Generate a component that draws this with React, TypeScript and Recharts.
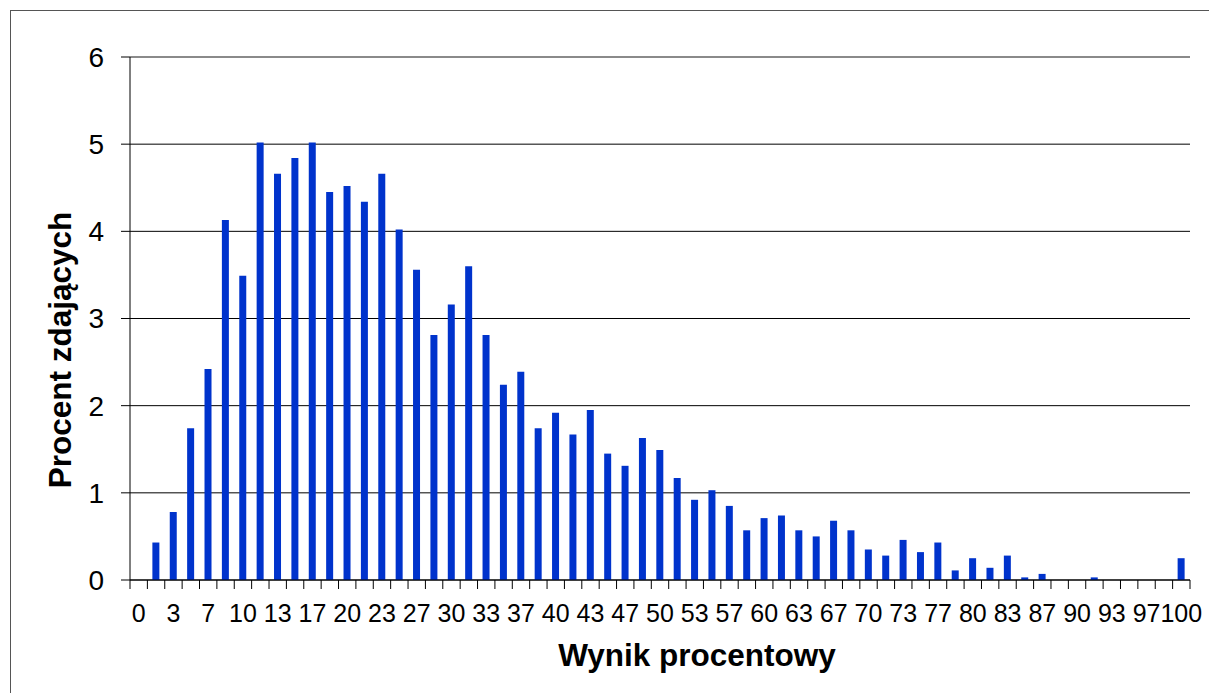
import React from 'react';
import { BarChart, Bar, XAxis, YAxis, CartesianGrid, ReferenceLine } from 'recharts';

// score buckets (percent of max points) and share of candidates
const scoreLabels = [
  '0', '2', '3', '5', '7', '8', '10', '12', '13', '15', '17', '18', '20', '22', '23', '25',
  '27', '28', '30', '32', '33', '35', '37', '38', '40', '42', '43', '45', '47', '48', '50',
  '52', '53', '55', '57', '58', '60', '62', '63', '65', '67', '68', '70', '72', '73', '75',
  '77', '78', '80', '82', '83', '85', '87', '88', '90', '92', '93', '95', '97', '98', '100',
];

const percentValues = [
  0, 0.43, 0.78, 1.74, 2.42, 4.13, 3.49, 5.02, 4.66, 4.84, 5.02, 4.45, 4.52, 4.34, 4.66, 4.02,
  3.56, 2.81, 3.16, 3.6, 2.81, 2.24, 2.39, 1.74, 1.92, 1.67, 1.95, 1.45, 1.31, 1.63, 1.49,
  1.17, 0.92, 1.03, 0.85, 0.57, 0.71, 0.74, 0.57, 0.5, 0.68, 0.57, 0.35, 0.28, 0.46, 0.32,
  0.43, 0.11, 0.25, 0.14, 0.28, 0.03, 0.07, 0, 0, 0.03, 0, 0, 0, 0, 0.25,
];

const yTicks = [0, 1, 2, 3, 4, 5, 6];

const data = scoreLabels.map((label, i) => ({ label, value: percentValues[i] }));

const W = 1209;
const H = 693;
const FONT = '"Liberation Sans", Arial, sans-serif';
const PLOT_LEFT = 130;
const PLOT_RIGHT = 1190;
const BAND = (PLOT_RIGHT - PLOT_LEFT) / scoreLabels.length;

const XTick = (props: any) => {
  const { x, y, payload } = props;
  const idx = payload.index;
  const left = x - BAND / 2;
  return (
    <g>
      <line x1={left} x2={left} y1={y} y2={y + 9} stroke="#000" strokeWidth={1} />
      {idx === scoreLabels.length - 1 && (
        <line x1={x + BAND / 2} x2={x + BAND / 2} y1={y} y2={y + 9} stroke="#000" strokeWidth={1} />
      )}
      {idx % 2 === 0 && (
        <text x={x} y={y + 42} textAnchor="middle" fontSize={25} fontFamily={FONT} fill="#000">
          {payload.value}
        </text>
      )}
    </g>
  );
};

export default function App() {
  return (
    <div style={{ position: 'fixed', left: 0, top: 0, width: W, height: H, background: '#fff', overflow: 'hidden' }}>
      <div
        style={{
          position: 'absolute',
          left: 10,
          top: 10,
          width: W,
          height: H,
          borderLeft: '1px solid #555',
          borderTop: '1px solid #555',
        }}
      />
      <div style={{ position: 'absolute', left: 0, top: 0 }}>
        <BarChart width={W} height={H} data={data} margin={{ top: 57, right: W - PLOT_RIGHT, left: 0, bottom: 0 }} barCategoryGap={0}>
          <CartesianGrid vertical={false} stroke="#000" strokeWidth={1} />
          <XAxis
            dataKey="label"
            height={113}
            interval={0}
            tickLine={false}
            tickSize={0}
            tickMargin={0}
            axisLine={{ stroke: '#000', strokeWidth: 1 }}
            tick={<XTick />}
            label={{
              content: () => (
                <text x={697} y={666} textAnchor="middle" fontSize={31.5} fontWeight="bold" fontFamily={FONT} fill="#000">
                  Wynik procentowy
                </text>
              ),
            }}
          />
          <YAxis
            width={PLOT_LEFT}
            domain={[0, 6]}
            ticks={yTicks}
            interval={0}
            tickSize={9}
            tickMargin={17}
            axisLine={{ stroke: '#000', strokeWidth: 1 }}
            tickLine={{ stroke: '#000', strokeWidth: 1 }}
            tick={{ fill: '#000', fontSize: 28, fontFamily: FONT }}
            label={{
              content: () => (
                <text
                  x={71}
                  y={350}
                  transform="rotate(-90 71 350)"
                  textAnchor="middle"
                  fontSize={31.5}
                  fontWeight="bold"
                  fontFamily={FONT}
                  fill="#000"
                >
                  Procent zdających
                </text>
              ),
            }}
          />
          <YAxis
            yAxisId="r"
            orientation="right"
            width={0}
            domain={[0, 6]}
            tick={false}
            tickLine={false}
            axisLine={{ stroke: '#8a8a8a', strokeWidth: 2 }}
          />
          <ReferenceLine y={6} stroke="#8a8a8a" strokeWidth={2} />
          <Bar dataKey="value" fill="#0033cc" barSize={7} isAnimationActive={false} />
        </BarChart>
      </div>
    </div>
  );
}
